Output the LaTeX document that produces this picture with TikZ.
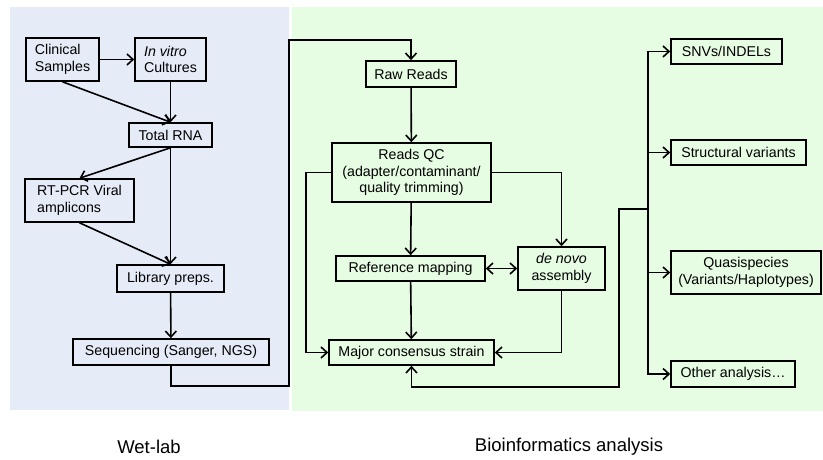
\documentclass[tikz,border=0pt]{standalone}
\usepackage{fontspec}
\setmainfont{Liberation Sans}
\usepackage{xcolor}
\usepackage{tikz}
\usetikzlibrary{arrows.meta}

\definecolor{wetblue}{RGB}{230,236,247}
\definecolor{drygreen}{RGB}{230,252,227}

\tikzset{
  box/.style={draw, line width=1.6pt, inner sep=2pt, font=\fontsize{14.2pt}{16.5pt}\selectfont},
  tip/.style={Straight Barb[length=6pt,width=11pt]},
  flow/.style={line width=1.6pt, -{Straight Barb[length=6pt,width=11pt]}},
  flowboth/.style={line width=1.6pt, {Straight Barb[length=6pt,width=11pt]}-{Straight Barb[length=6pt,width=11pt]}},
  caption/.style={font=\fontsize{18.5pt}{22pt}\selectfont}
}

\begin{document}
\begin{tikzpicture}[x=1pt,y=-1pt]
            \useasboundingbox (0,0) rectangle (823,460);
            % Panels
            \fill[wetblue] (10,7) rectangle (289,410);
            \fill[drygreen] (292,7) rectangle (823,411);
            \node[caption] (wetlab) at (149,447) {Wet-lab};
            \node[caption] (bioinfo) at (569,447) {Bioinformatics analysis};
            % Wet-lab steps
            \node[box, minimum width=73pt, minimum height=43pt, align=left] (clin) at (62.5,59.5) {Clinical\\Samples};
            \node[box, minimum width=71pt, minimum height=43pt, align=left] (vitro) at (170.5,59.5) {\textit{In vitro}\\Cultures};
            \node[box, minimum width=83pt, minimum height=24pt] (rna) at (170.5,135) {Total RNA};
            \node[box, minimum width=109pt, minimum height=43pt, align=left] (rtpcr) at (79.5,200.5) {RT-PCR Viral\\amplicons};
            \node[box, minimum width=107pt, minimum height=27pt] (lib) at (170.5,278.5) {Library preps.};
            \node[box, minimum width=196pt, minimum height=26pt] (seq) at (171,352) {Sequencing (Sanger, NGS)};
            % Bioinformatics steps
            \node[box, minimum width=90pt, minimum height=26pt] (raw) at (411,74) {Raw Reads};
            \node[box, minimum width=159pt, minimum height=59pt, align=center] (qc) at (411.5,172.5) {Reads QC\\(adapter/contaminant/\\quality trimming)};
            \node[box, minimum width=149pt, minimum height=25pt] (refmap) at (410.5,268.5) {Reference mapping};
            \node[box, minimum width=87pt, minimum height=43pt, align=center] (denovo) at (561.5,268.5) {\textit{de novo}\\assembly};
            \node[box, minimum width=165pt, minimum height=25pt] (major) at (411.5,352.5) {Major consensus strain};
            % Downstream analysis
            \node[box, minimum width=111pt, minimum height=25pt] (snv) at (726.5,51.5) {SNVs/INDELs};
            \node[box, minimum width=135pt, minimum height=25pt] (sv) at (738.5,152.5) {Structural variants};
            \node[box, minimum width=150pt, minimum height=43pt, align=center] (quasi) at (746,272.5) {Quasispecies\\(Variants/Haplotypes)};
            \node[box, minimum width=124pt, minimum height=26pt] (other) at (733,374) {Other analysis…};
            % Bends
            \coordinate (hand1) at (289,386);
            \coordinate (hand2) at (289,40);
            \coordinate (loop) at (619,387);
            \coordinate (split) at (648,209);
            % Wet-lab arrows
            \draw[flow] (clin) -- (vitro);
            \draw[flow] (clin.south) -- (rna.north);
            \draw[flow] (vitro) -- (rna);
            \draw[flow] (rna.south) -- (rtpcr.north);
            \draw[flow] (rna) -- (lib);
            \draw[flow] (rtpcr.south) -- (lib.north);
            \draw[flow] (lib) -- (seq);
            \draw[flow] (seq.south) |- (hand1) -- (hand2) -| (raw.north);
            % Bioinformatics arrows
            \draw[flow] (raw) -- (qc);
            \draw[flow] (qc) -- (refmap);
            \draw[flow] (qc.west) -- ++(-25,0) |- (major.west);
            \draw[flow] (qc.east) -| (denovo.north);
            \draw[flowboth] (refmap) -- (denovo);
            \draw[flow] (refmap) -- (major);
            \draw[flow] (denovo.south) |- (major.east);
            \draw[flow] (split) -| (loop) -| (major.south);
            \draw[flow] (split) |- (snv.west);
            \draw[flow] (split) |- (sv.west);
            \draw[flow] (split) |- (quasi.west);
            \draw[flow] (split) |- (other.west);
        \end{tikzpicture}
\end{document}
